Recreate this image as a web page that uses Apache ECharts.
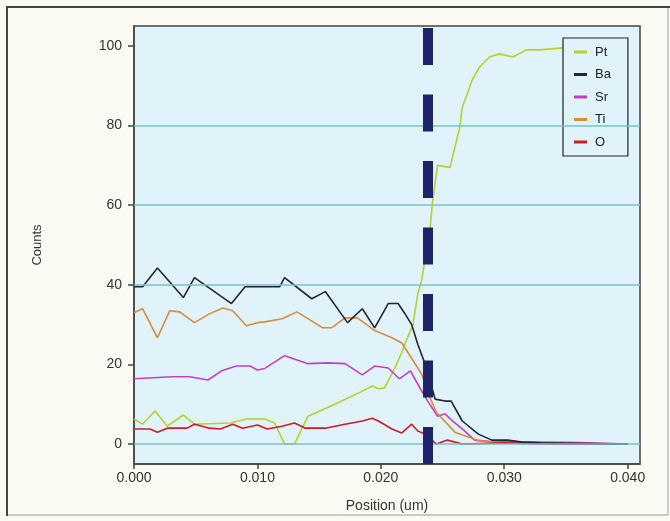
<!DOCTYPE html>
<html>
<head>
<meta charset="utf-8">
<script src="https://cdn.jsdelivr.net/npm/echarts@6/dist/echarts.min.js"></script>
<style>
html,body{margin:0;padding:0;background:#fbfbf4;}
#c{width:670px;height:521px;}
</style>
</head>
<body>
<div id="c"></div>
<script>
// ---- data (x in um, y in counts) ----
const seriesNames = ['Pt', 'Ba', 'Sr', 'Ti', 'O'];
const xTicks = [0, 0.01, 0.02, 0.03, 0.04];
const yTicks = [0, 20, 40, 60, 80, 100];
const gridValues = [0, 40, 60, 80];
const interfacePos = 0.0238;

const pt = [[0,6.3],[0.0007,5],[0.0017,8.3],[0.0027,4.5],[0.0040,7.3],[0.0049,5],[0.0078,5.3],[0.0091,6.3],
  [0.0106,6.3],[0.0114,5.3],[0.0122,0],[0.0130,0],[0.0141,7],[0.0147,7.8],[0.0165,10.3],[0.0185,13.3],
  [0.0193,14.6],[0.0198,13.9],[0.0203,14.1],[0.0211,18.9],[0.0217,23],[0.0220,25.5],[0.0226,30],[0.0230,37.8],
  [0.0233,41],[0.0240,54.4],[0.0242,61.2],[0.0246,70],[0.0256,69.5],[0.0258,72],[0.0264,79.6],[0.0266,84.6],
  [0.0274,91.4],[0.0280,94.7],[0.0288,97.2],[0.0296,98],[0.0307,97.2],[0.0318,99],[0.0329,99],[0.0347,99.5],[0.0400,100]];
const ba = [[0,39.5],[0.0007,39.5],[0.0019,44.2],[0.0040,36.8],[0.0049,41.8],[0.0079,35.3],[0.0090,39.5],
  [0.0118,39.5],[0.0122,41.8],[0.0144,36.5],[0.0155,38.3],[0.0173,30.5],[0.0185,34],[0.0195,29.2],[0.0206,35.3],
  [0.0214,35.3],[0.0219,33],[0.0225,30],[0.0230,25],[0.0236,20],[0.0244,11.3],[0.0252,10.8],[0.0257,10.8],
  [0.0266,5.8],[0.0279,2.5],[0.0290,1],[0.0303,1],[0.0314,0.5],[0.0329,0.3],[0.0400,0]];
const sr = [[0,16.4],[0.0031,16.9],[0.0045,16.9],[0.0060,16.1],[0.0071,18.4],[0.0083,19.6],[0.0094,19.6],
  [0.0100,18.6],[0.0106,19],[0.0122,22.2],[0.0141,20.2],[0.0157,20.4],[0.0171,20.2],[0.0185,17.4],[0.0195,19.6],
  [0.0206,19.1],[0.0215,16.4],[0.0224,18.4],[0.0232,13.9],[0.0238,10.8],[0.0246,7],[0.0252,7.6],[0.0258,5.8],
  [0.0266,3.8],[0.0276,1],[0.0287,0.7],[0.0360,0.4],[0.0400,0]];
const ti = [[0,33],[0.0007,34],[0.0019,26.7],[0.0029,33.5],[0.0037,33.2],[0.0049,30.5],[0.0061,32.7],[0.0072,34.2],
  [0.0080,33.5],[0.0091,29.7],[0.0100,30.5],[0.0106,30.7],[0.0120,31.5],[0.0132,33.2],[0.0153,29.2],[0.0160,29.2],
  [0.0171,31.7],[0.0181,31.7],[0.0195,28.5],[0.0209,26.7],[0.0217,25.4],[0.0222,23],[0.0233,17.6],[0.0238,13],
  [0.0245,8],[0.0260,3],[0.0280,0.8],[0.0300,0.3],[0.0400,0]];
const ox = [[0,3.8],[0.0013,3.8],[0.0019,3],[0.0027,4],[0.0043,4],[0.0049,5],[0.0061,4],[0.0070,3.8],[0.0080,5],
  [0.0088,4],[0.0100,4.8],[0.0108,3.8],[0.0120,4.5],[0.0130,5.3],[0.0139,4],[0.0155,4],[0.0171,5],[0.0185,5.8],
  [0.0193,6.5],[0.0198,5.8],[0.0209,3.8],[0.0217,2.8],[0.0225,5],[0.0230,3.3],[0.0236,2.5],[0.0245,0],[0.0254,1],
  [0.0266,0],[0.0300,0.3],[0.0340,0],[0.0400,0]];

const colors = ['#b7d02c', '#23233a', '#c43fc4', '#d98c3c', '#d01a28'];
const seriesData = [pt, ba, sr, ti, ox];

const chart = echarts.init(document.getElementById('c'));
const font = 'Liberation Sans, Arial, sans-serif';

const series = seriesNames.map((n, i) => ({
  name: n, type: 'line', data: seriesData[i], showSymbol: false, symbol: 'none',
  lineStyle: {color: colors[i], width: 1.6}, itemStyle: {color: colors[i]}, z: 3 + (i === 1 ? 1 : 0), animation: false
}));
// grid lines (under data)
series[0].markLine = {silent: true, symbol: 'none', label: {show: false}, animation: false, precision: 6,
  lineStyle: {color: '#7bbfcb', width: 1.5, type: 'solid'},
  data: gridValues.map(v => ({yAxis: v, lineStyle: {color: '#7bbfcb', width: 1.5, type: 'solid'}}))};
// interface dashed line (over data)
series[4].markLine = {silent: true, symbol: 'none', label: {show: false}, animation: false, precision: 6,
  lineStyle: {color: '#1f2468', width: 10, type: [37, 29.5]},
  data: [{xAxis: interfacePos, lineStyle: {color: '#1f2468', width: 10, type: [37, 29.5]}}]};

chart.setOption({
  animation: false,
  backgroundColor: '#fbfbf4',
  textStyle: {fontFamily: font},
  grid: {left: 134, right: 30, top: 26, bottom: 57, show: true, backgroundColor: '#e0f3fa',
    borderColor: '#444', borderWidth: 1.5},
  legend: {
    data: seriesNames, orient: 'vertical', left: 563, top: 38, padding: [7, 17, 7, 11],
    itemGap: 8.5, itemWidth: 13, itemHeight: 3, icon: 'rect',
    backgroundColor: '#e0f3fa', borderColor: '#222', borderWidth: 1.2,
    textStyle: {fontSize: 13, color: '#222', fontFamily: font, padding: [0, 0, 0, 3], lineHeight: 14}
  },
  xAxis: {
    type: 'value', min: 0, max: 0.041,
    axisLine: {show: true, onZero: false, lineStyle: {color: '#444', width: 1.5}},
    axisTick: {show: true, customValues: xTicks, length: 5, lineStyle: {color: '#444', width: 1.5}},
    axisLabel: {customValues: xTicks, formatter: v => v.toFixed(3), fontSize: 14, color: '#333', margin: 7},
    splitLine: {show: false},
    name: 'Position (um)', nameLocation: 'middle', nameGap: 35,
    nameTextStyle: {fontSize: 14, color: '#333'}
  },
  yAxis: {
    type: 'value', min: -5, max: 105,
    axisLine: {show: true, onZero: false, lineStyle: {color: '#444', width: 1.5}},
    axisTick: {show: true, customValues: yTicks, length: 6, lineStyle: {color: '#444', width: 1.5}},
    axisLabel: {customValues: yTicks, fontSize: 14, color: '#333', margin: 12},
    splitLine: {show: false},
    name: 'Counts', nameLocation: 'middle', nameGap: 90, nameRotate: 90,
    nameTextStyle: {fontSize: 13, color: '#333'}
  },
  graphic: [
    {type: 'rect', shape: {x: 7, y: 7, width: 661, height: 508}, silent: true,
      style: {fill: 'none', stroke: '#9a9a9a', lineWidth: 1}},
    {type: 'polyline', shape: {points: [[7, 516], [7, 7], [670, 7]]}, silent: true,
      style: {fill: 'none', stroke: '#444', lineWidth: 2}}
  ],
  series: series
});
</script>
</body>
</html>
